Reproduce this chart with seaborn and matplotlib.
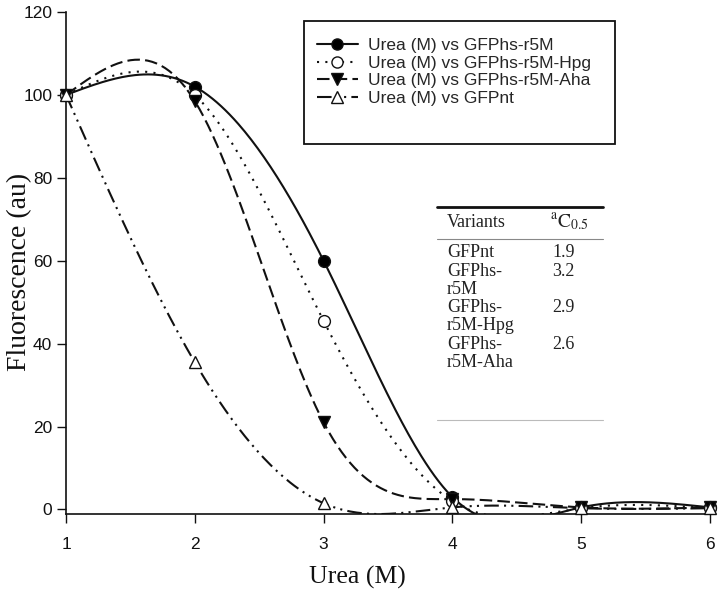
import numpy as np
import pandas as pd
import matplotlib
matplotlib.use("Agg")
import matplotlib.pyplot as plt
import seaborn as sns
from matplotlib.lines import Line2D
from matplotlib.patches import Rectangle

# data
urea = [1, 2, 3, 4, 5, 6]
r5m = [100, 102, 60, 3, 0.5, 0.5]
r5m_hpg = [100, 100, 45.5, 2, 0.3, 0.3]
r5m_aha = [100, 98.5, 21, 2.5, 0.5, 0.5]
gfpnt = [100, 35.5, 1.5, 0.5, 0.3, 0.3]

table_variants = ["GFPnt", "GFPhs-\nr5M", "GFPhs-\nr5M-Hpg", "GFPhs-\nr5M-Aha"]
table_c05 = ["1.9", "3.2", "2.9", "2.6"]


def natural_spline(x, y, n=300):
    """Natural cubic spline through the points, like SigmaPlot's smoothed line."""
    x = np.asarray(x, float)
    y = np.asarray(y, float)
    h = np.diff(x)
    k = len(x)
    A = np.zeros((k, k))
    b = np.zeros(k)
    A[0, 0] = 1
    A[-1, -1] = 1
    for i in range(1, k - 1):
        A[i, i - 1] = h[i - 1]
        A[i, i] = 2 * (h[i - 1] + h[i])
        A[i, i + 1] = h[i]
        b[i] = 6 * ((y[i + 1] - y[i]) / h[i] - (y[i] - y[i - 1]) / h[i - 1])
    M = np.linalg.solve(A, b)
    xs = np.linspace(x[0], x[-1], n)
    idx = np.clip(np.searchsorted(x, xs) - 1, 0, k - 2)
    x0, x1 = x[idx], x[idx + 1]
    hh = x1 - x0
    t0, t1 = x1 - xs, xs - x0
    ys = (M[idx] * t0 ** 3 + M[idx + 1] * t1 ** 3) / (6 * hh) \
        + (y[idx] / hh - M[idx] * hh / 6) * t0 \
        + (y[idx + 1] / hh - M[idx + 1] * hh / 6) * t1
    return xs, ys


sns.set_style("ticks")
plt.rcParams["font.family"] = ["Liberation Sans", "DejaVu Sans"]
plt.rcParams["mathtext.fontset"] = "stix"

fig = plt.figure(figsize=(7.2, 5.9), dpi=100)
ax = fig.add_axes([0.0917, 0.1288, 0.8943, 0.8509])

series = [
    ("Urea (M) vs GFPhs-r5M", r5m, "-", "o", "black"),
    ("Urea (M) vs GFPhs-r5M-Hpg", r5m_hpg, (0, (1, 3)), "o", "white"),
    ("Urea (M) vs GFPhs-r5M-Aha", r5m_aha, (0, (6, 2.5)), "v", "black"),
    ("Urea (M) vs GFPnt", gfpnt, (0, (7, 2.5, 1, 2.5, 1, 2.5)), "^", "white"),
]

handles = []
for label, vals, ls, mk, fc in series:
    xs, ys = natural_spline(urea, vals)
    curve = pd.DataFrame({"x": xs, "y": ys})
    sns.lineplot(data=curve, x="x", y="y", ax=ax, color="#111111",
                 linestyle=ls, linewidth=1.5, sort=False, estimator=None)
    ax.plot(urea, vals, linestyle="none", marker=mk, markersize=8.5,
            markerfacecolor=fc, markeredgecolor="#111111",
            markeredgewidth=1.0, zorder=5, clip_on=False)
    handles.append(Line2D([], [], color="#111111", linestyle=ls, linewidth=1.5,
                          marker=mk, markersize=8, markerfacecolor=fc,
                          markeredgecolor="#111111", label=label))

ax.set_xlim(1, 6)
ax.set_ylim(-1.1, 120)
ax.set_xticks(urea)
ax.set_yticks([0, 20, 40, 60, 80, 100, 120])
ax.tick_params(axis="both", labelsize=12.5, length=6.5, width=1, color="#111111",
               labelcolor="#111111")
ax.tick_params(axis="x", pad=10)
for side in ["top", "right"]:
    ax.spines[side].set_visible(False)
for side in ["left", "bottom"]:
    ax.spines[side].set_linewidth(1.2)
    ax.spines[side].set_color("#111111")

ax.set_xlabel("Urea (M)", family=["Liberation Serif"], fontsize=18.5,
              color="#111111")
ax.set_ylabel("Fluorescence (au)", family=["Liberation Serif"], fontsize=20,
              color="#111111")
ax.xaxis.set_label_coords(0.452, -0.104)
ax.yaxis.set_label_coords(-0.052, 0.482)

# legend with a taller frame, as in the reference
W, H = 720.0, 590.0
fig.legend(handles=handles, loc="upper left",
           bbox_to_anchor=(317 / W, 1 - 38 / H), frameon=False, fontsize=12.5,
           handlelength=2.36, handletextpad=0.57, labelspacing=0.14,
           borderpad=0, borderaxespad=0)
fig.add_artist(Rectangle((304 / W, 1 - 144 / H), 311 / W, 123 / H,
                         transform=fig.transFigure, fill=False,
                         edgecolor="#111111", linewidth=1.3))

# inset table
tc = "#222222"
fig.add_artist(Line2D([437 / W, 603 / W], [1 - 207 / H] * 2,
                      transform=fig.transFigure, color="#111111", linewidth=2))
fig.add_artist(Line2D([437 / W, 603 / W], [1 - 239 / H] * 2,
                      transform=fig.transFigure, color="#888888", linewidth=0.8))
fig.add_artist(Line2D([437 / W, 603 / W], [1 - 420 / H] * 2,
                      transform=fig.transFigure, color="#bbbbbb", linewidth=0.8))
fig.text(447 / W, 1 - 222 / H, "Variants", family=["Liberation Serif"],
         fontsize=13, color=tc, va="center")
fig.text(550 / W, 1 - 222 / H, r"$^{\mathrm{a}}\mathrm{C}_{0.5}$",
         fontsize=14, color=tc, va="center")
row_y = [253, 272, 308, 345]
for name, val, yy in zip(table_variants, table_c05, row_y):
    fig.text(447 / W, 1 - (yy - 9) / H, name, family=["Liberation Serif"],
             fontsize=13, color=tc, va="top", linespacing=1.05)
    fig.text(552 / W, 1 - (yy - 9) / H, val, family=["Liberation Serif"],
             fontsize=13, color=tc, va="top")

fig.savefig("out.png", dpi=100)
